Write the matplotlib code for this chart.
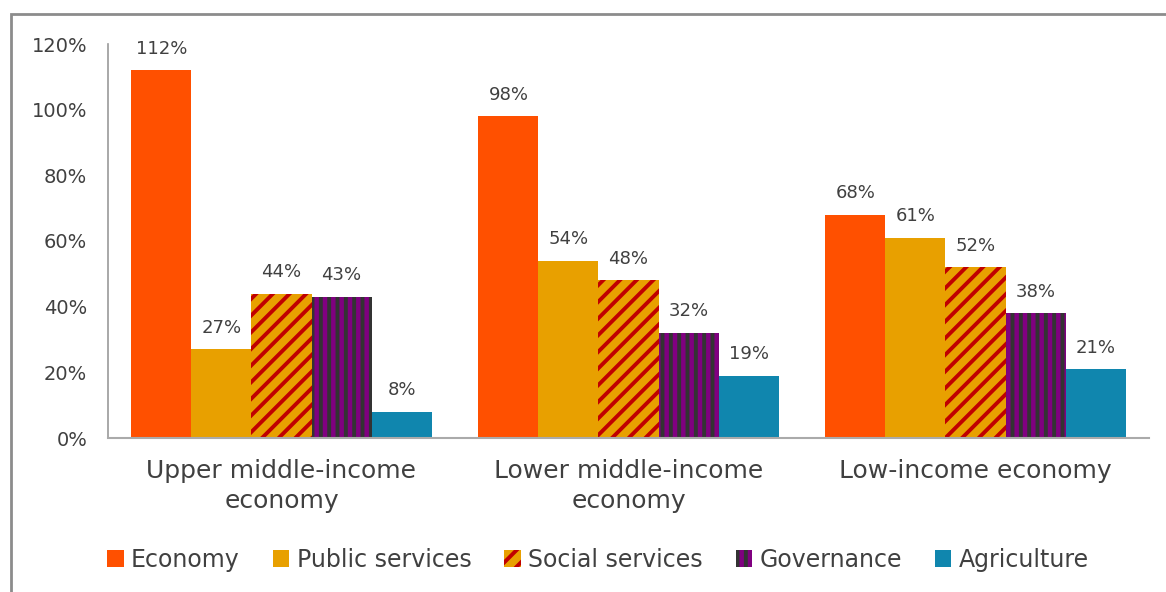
import matplotlib
matplotlib.use("Agg")
import matplotlib.pyplot as plt
import numpy as np
from matplotlib.patches import Rectangle

categories = ["Upper middle-income\neconomy", "Lower middle-income\neconomy", "Low-income economy"]
series = ["Economy", "Public services", "Social services", "Governance", "Agriculture"]
economy = [112, 98, 68]
public_services = [27, 54, 61]
social_services = [44, 48, 52]
governance = [43, 32, 38]
agriculture = [8, 19, 21]
yticks = [0, 20, 40, 60, 80, 100, 120]

values = [economy, public_services, social_services, governance, agriculture]
faces = ["#FF5000", "#E8A000", "#E8A000", "#800080", "#1086AE"]
hatch_colors = [None, None, "#C00000", "#333333", None]
hatches = [None, None, "//", "||", None]

plt.rcParams["font.family"] = ["DejaVu Sans"]
plt.rcParams["hatch.linewidth"] = 2.8
text_color = "#404040"

fig = plt.figure(figsize=(11.66, 5.92), dpi=100)
ax = fig.add_axes([108 / 1166, 1 - 438 / 592, 1041 / 1166, (438 - 44) / 592])

x = np.arange(len(categories))
width = 0.173
for i, (name, vals) in enumerate(zip(series, values)):
    pos = x + (i - 2) * width
    if hatches[i]:
        bars = ax.bar(pos, vals, width, color=faces[i], edgecolor=hatch_colors[i],
                      hatch=hatches[i], linewidth=0, label=name)
    else:
        bars = ax.bar(pos, vals, width, color=faces[i], linewidth=0, label=name)
    for b, v in zip(bars, vals):
        ax.annotate(f"{v}%", (b.get_x() + b.get_width() / 2, v), xytext=(0, 9),
                    textcoords="offset points", ha="center", va="bottom",
                    fontsize=13, color=text_color)

ax.set_xlim(-0.5, 2.5)
ax.set_ylim(0, 120)
ax.set_yticks(yticks)
ax.set_yticklabels([f"{t}%" for t in yticks])
ax.set_xticks(x)
ax.set_xticklabels(categories, linespacing=1.35)
ax.tick_params(axis="y", length=0, pad=15, labelsize=14, labelcolor=text_color)
ax.tick_params(axis="x", length=0, pad=15, labelsize=18, labelcolor=text_color)
for s in ["top", "right"]:
    ax.spines[s].set_visible(False)
ax.spines["left"].set_color("#999999")
ax.spines["bottom"].set_color("#aaaaaa")
ax.spines["left"].set_linewidth(1.2)
ax.spines["bottom"].set_linewidth(1.5)

leg = ax.legend(loc="center", bbox_to_anchor=(598 / 1166, 1 - 560 / 592),
                bbox_transform=fig.transFigure, ncol=5, frameon=False,
                fontsize=17, handlelength=0.7, handleheight=0.7, handletextpad=0.3,
                columnspacing=1.4, labelcolor=text_color)

# outer frame
fig.add_artist(Rectangle((11 / 1166, -0.1), 1.2, 1.1 - 14 / 592 + 0.0,
                         transform=fig.transFigure, fill=False,
                         edgecolor="#8c8c8c", linewidth=2))

fig.savefig("out.png", dpi=100)
